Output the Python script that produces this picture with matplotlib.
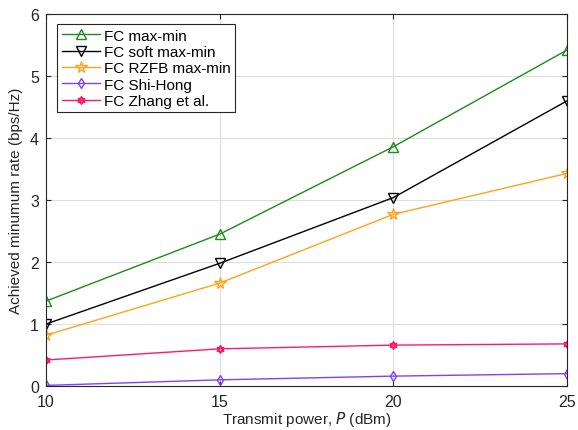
import numpy as np
import matplotlib
matplotlib.use('Agg')
import matplotlib.pyplot as plt
from matplotlib.path import Path

plt.rcParams['font.family'] = ['Liberation Sans', 'DejaVu Sans']

power = [10, 15, 20, 25]
fc_maxmin = [1.37, 2.45, 3.86, 5.42]
fc_soft = [1.00, 1.98, 3.04, 4.60]
fc_rzfb = [0.82, 1.66, 2.77, 3.43]
fc_shihong = [0.01, 0.10, 0.16, 0.20]
fc_zhang = [0.42, 0.60, 0.66, 0.68]

# six-pointed star (two overlapping triangles) for the Zhang curve
ang = np.pi / 2 + np.arange(3) * 2 * np.pi / 3
tri1 = np.c_[np.cos(ang), np.sin(ang)]
tri2 = -tri1
verts = np.vstack([tri1, tri1[:1], tri2, tri2[:1]])
codes = [Path.MOVETO, Path.LINETO, Path.LINETO, Path.CLOSEPOLY] * 2
hexagram = Path(verts, codes)

fig = plt.figure(figsize=(5.78, 4.31), dpi=100)
ax = fig.add_axes([0.0796, 0.102, 0.9014, 0.863])

kw = dict(markerfacecolor='none', linewidth=1.0, markeredgewidth=1.0)
ax.plot(power, fc_maxmin, '-', color='#1a8c1a', marker='^', markersize=6.5, label='FC max-min', **kw)
ax.plot(power, fc_soft, '-', color='black', marker='v', markersize=6.5, label='FC soft max-min', **kw)
ax.plot(power, fc_rzfb, '-', color='#ffa31a', marker='*', markersize=8.5, label='FC RZFB max-min', **kw)
ax.plot(power, fc_shihong, '-', color='#8040ff', marker='d', markersize=5.5, label='FC Shi-Hong', **kw)
ax.plot(power, fc_zhang, '-', color='#ff1a66', marker=hexagram, markersize=5.5, label='FC Zhang et al.', **kw)

ax.set_xlim(10, 25)
ax.set_ylim(0, 6)
ax.set_xticks([10, 15, 20, 25])
ax.set_yticks(range(7))
ax.grid(True, color='#dedede', linewidth=0.8)
ax.set_axisbelow(True)
ax.tick_params(direction='in', labelsize=11.5, color='#262626', labelcolor='#262626', top=True, right=True)
ax.tick_params(axis='x', pad=6)
ax.tick_params(axis='y', pad=5)
for s in ax.spines.values():
    s.set_color('#262626')
    s.set_linewidth(0.8)

ax.set_xlabel('Transmit power, $\\it{P}$ (dBm)', fontsize=11, color='#262626', labelpad=0)
ax.set_ylabel('Achieved minumum rate (bps/Hz)', fontsize=11, color='#262626', labelpad=5)

leg = ax.legend(loc='upper left', bbox_to_anchor=(0.021, 0.973), fontsize=11, fancybox=False,
                edgecolor='#262626', framealpha=1, borderpad=0.3, labelspacing=0.15,
                handlelength=2.5, handletextpad=0.25, borderaxespad=0)
leg.get_frame().set_linewidth(0.8)

fig.savefig('out.png', dpi=100)
